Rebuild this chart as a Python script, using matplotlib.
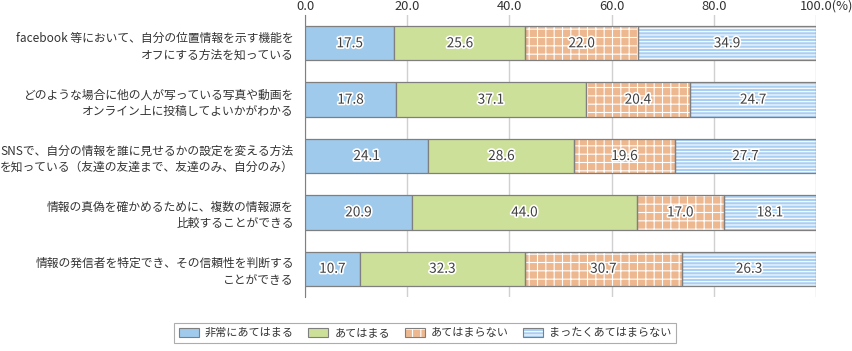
import matplotlib
matplotlib.use("Agg")
import matplotlib.pyplot as plt
import matplotlib.patheffects as pe
from matplotlib.patches import Patch
from matplotlib.legend_handler import HandlerTuple
from matplotlib.transforms import ScaledTranslation
import numpy as np

plt.rcParams['font.family'] = ['Noto Sans CJK JP', 'DejaVu Sans']
plt.rcParams['hatch.linewidth'] = 0.8

categories = [
    "facebook 等において、自分の位置情報を示す機能を\nオフにする方法を知っている",
    "どのような場合に他の人が写っている写真や動画を\nオンライン上に投稿してよいかがわかる",
    "SNSで、自分の情報を誰に見せるかの設定を変える方法\nを知っている（友達の友達まで、友達のみ、自分のみ）",
    "情報の真偽を確かめるために、複数の情報源を\n比較することができる",
    "情報の発信者を特定でき、その信頼性を判断する\nことができる",
]
series_names = ["非常にあてはまる", "あてはまる", "あてはまらない", "まったくあてはまらない"]
very = [17.5, 17.8, 24.1, 20.9, 10.7]
agree = [25.6, 37.1, 28.6, 44.0, 32.3]
disagree = [22.0, 20.4, 19.6, 17.0, 30.7]
strongly_disagree = [34.9, 24.7, 27.7, 18.1, 26.3]
xticks = [0, 20, 40, 60, 80, 100]
xticklabels = ["0.0", "20.0", "40.0", "60.0", "80.0", "100.0(%)"]

series = [very, agree, disagree, strongly_disagree]
colors = ["#9fcaeb", "#cde09a", "#edb88f", "#a9d0f2"]
hatches = [None, None, "++", "-----"]

fig = plt.figure(figsize=(8.52, 3.51), dpi=100)
ax = fig.add_axes([0.358, 0.154, 0.6, 0.803])

y = np.arange(len(categories))
left = np.zeros(len(categories))
for vals, c, h in zip(series, colors, hatches):
    vals = np.array(vals)
    if h:
        ax.barh(y, vals, left=left, height=0.61, color=c, hatch=h,
                edgecolor="white", linewidth=0, zorder=2)
        ax.barh(y, vals, left=left, height=0.61, fill=False,
                edgecolor="#7f7f7f", linewidth=0.9, zorder=3)
    else:
        ax.barh(y, vals, left=left, height=0.61, color=c,
                edgecolor="#7f7f7f", linewidth=0.9, zorder=3)
    for yi, l, v in zip(y, left, vals):
        ax.text(l + v / 2, yi, f"{v:.1f}", ha="center", va="center",
                fontsize=9.8, color="#404040", zorder=5,
                path_effects=[pe.withStroke(linewidth=2.4, foreground="white")])
    left = left + vals

ax.set_xlim(0, 100)
ax.set_ylim(len(categories) - 0.5, -0.5)
ax.set_xticks(xticks)
ax.set_xticklabels(xticklabels, fontsize=9.3, color="#333333")
ax.xaxis.tick_top()
ax.tick_params(axis="x", length=0, pad=1.5)
ax.set_yticks(y)
ax.set_yticklabels(categories, fontsize=8.5, color="#333333", linespacing=1.35)
ax.tick_params(axis="y", length=0, pad=8)
last = ax.get_xticklabels()[-1]
last.set_horizontalalignment("left")
last.set_transform(last.get_transform() + ScaledTranslation(-16 / 100, 0, fig.dpi_scale_trans))

ax.grid(axis="x", color="#d0d0d0", linewidth=1.0, zorder=0)
ax.set_axisbelow(True)
for s in ["right", "bottom", "top"]:
    ax.spines[s].set_visible(False)
ax.spines["left"].set_color("#808080")

handles = []
for c, h in zip(colors, hatches):
    fill = Patch(facecolor=c, hatch=h, edgecolor="white" if h else c, linewidth=0)
    border = Patch(fill=False, edgecolor="#7f7f7f", linewidth=0.8)
    handles.append((fill, border))
leg = fig.legend(handles, series_names, loc="center", ncol=4,
                 bbox_to_anchor=(0.499, 0.051), fontsize=8.0, frameon=True,
                 fancybox=False, edgecolor="#999999", handlelength=1.8,
                 handleheight=0.8, columnspacing=1.3, handletextpad=0.55,
                 borderpad=0.45, borderaxespad=0,
                 handler_map={tuple: HandlerTuple(ndivide=1)})
leg.get_frame().set_linewidth(0.8)
for t in leg.get_texts():
    t.set_color("#333333")

fig.savefig("out.png", dpi=100)
